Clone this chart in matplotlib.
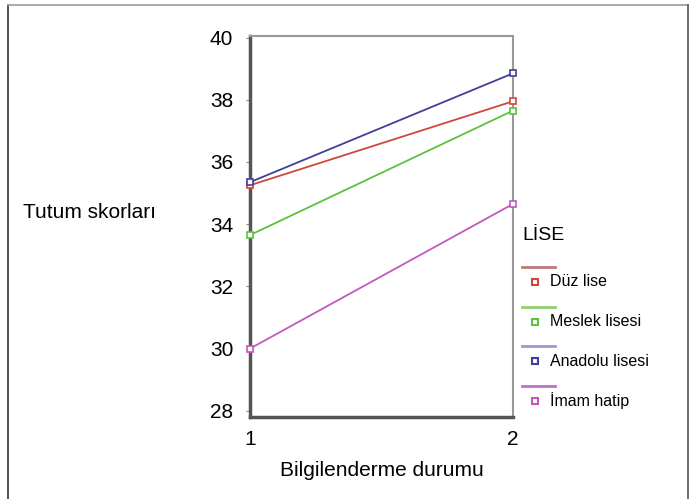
import matplotlib.pyplot as plt
from matplotlib.lines import Line2D

# Data
bilgilendirme = [1, 2]
duz_lise = [35.25, 37.95]
meslek_lisesi = [33.65, 37.65]
anadolu_lisesi = [35.35, 38.85]
imam_hatip = [30.0, 34.65]

series_names = ["Düz lise", "Meslek lisesi", "Anadolu lisesi", "İmam hatip"]
series_values = [duz_lise, meslek_lisesi, anadolu_lisesi, imam_hatip]
line_colors = ["#d0463c", "#5cc23e", "#40409a", "#c458c0"]
legend_line_colors = ["#c07878", "#8ed070", "#9a9ac8", "#c070c8"]

yticks = [28, 30, 32, 34, 36, 38, 40]

plt.rcParams['font.family'] = ['Liberation Sans', 'DejaVu Sans']

fig = plt.figure(figsize=(6.91, 4.99), dpi=100)

# outer frame
W, H = 691, 499
frame = [(8, 499), (8, 5), (688, 5), (688, 499)]
fig.add_artist(Line2D([8 / W, 8 / W], [0, 1 - 5 / H], transform=fig.transFigure,
                      color="#333333", linewidth=1.2))
fig.add_artist(Line2D([8 / W, 688 / W], [1 - 5 / H, 1 - 5 / H], transform=fig.transFigure,
                      color="#999999", linewidth=1.2))
fig.add_artist(Line2D([688 / W, 688 / W], [0, 1 - 5 / H], transform=fig.transFigure,
                      color="#555555", linewidth=1.2))

ax = fig.add_axes([0.3618, 0.1643, 0.3806, 0.7636])

for vals, col in zip(series_values, line_colors):
    ax.plot(bilgilendirme, vals, color=col, linewidth=1.3, marker='s',
            markersize=5, markerfacecolor='white', markeredgecolor=col,
            markeredgewidth=1.2, clip_on=False, zorder=3)

ax.set_xlim(1, 2)
ax.set_ylim(27.8, 40.05)
ax.set_yticks(yticks)
ax.set_yticklabels([str(t) for t in yticks], fontsize=15)
ax.set_xticks([1, 2])
ax.set_xticklabels(["1", "2"], fontsize=15)
ax.tick_params(axis='y', length=3, width=0.8, color="#888888", pad=9)
ax.tick_params(axis='x', length=0, pad=9)

ax.spines['left'].set_linewidth(2.5)
ax.spines['left'].set_color("#555555")
ax.spines['bottom'].set_linewidth(2.5)
ax.spines['bottom'].set_color("#555555")
ax.spines['top'].set_linewidth(1.5)
ax.spines['top'].set_color("#999999")
ax.spines['right'].set_linewidth(1.5)
ax.spines['right'].set_color("#999999")

ax.set_xlabel("Bilgilenderme durumu", fontsize=15, labelpad=9)
fig.text(23 / W, 1 - 212 / H, "Tutum skorları", fontsize=15,
         ha='left', va='center')

# Manual legend on the right
fig.text(522 / W, 1 - 236 / H, "LİSE", fontsize=14, ha='left', va='center')
line_ys = [267, 307, 346, 386]
for name, lc, mc, ly in zip(series_names, legend_line_colors, line_colors, line_ys):
    yl = 1 - ly / H
    fig.add_artist(Line2D([522 / W, 555 / W], [yl, yl], transform=fig.transFigure,
                          color=lc, linewidth=2))
    ym = 1 - (ly + 15) / H
    fig.add_artist(Line2D([535 / W], [ym], transform=fig.transFigure, marker='s',
                          markersize=5, markerfacecolor='white', markeredgecolor=mc,
                          markeredgewidth=1.5, linestyle='none'))
    fig.text(550 / W, ym, name, fontsize=11.5, ha='left', va='center')

fig.savefig("out.png", dpi=100)
